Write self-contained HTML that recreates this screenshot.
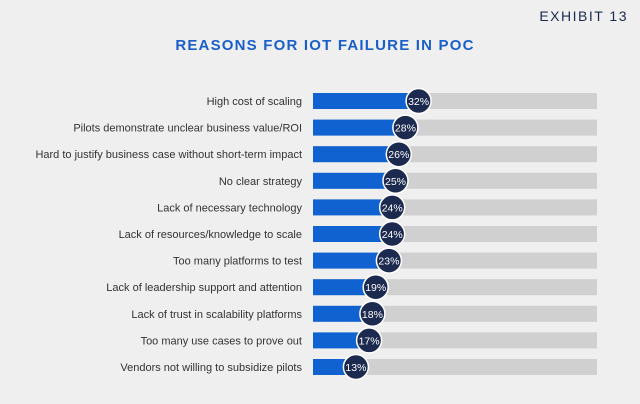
<!DOCTYPE html>
<html><head><meta charset="utf-8"><style>
body{margin:0;background:#efefef;font-family:"Liberation Sans",sans-serif}
#wrap{position:relative;width:640px;height:404px;overflow:hidden;background:#efefef}
</style></head><body>
<div id="wrap">
<div style="position:absolute;right:12px;top:8px;font-size:14px;letter-spacing:1.5px;color:#1b2a4e">EXHIBIT 13</div>
<div style="position:absolute;left:0;width:650px;top:37px;text-align:center;font-size:15px;font-weight:bold;letter-spacing:1.2px;color:#1a5fc8">REASONS FOR IOT FAILURE IN POC</div>
<svg id="chart" width="640" height="404" style="position:absolute;left:0;top:0"></svg>
</div>
<script>
const categories=["High cost of scaling","Pilots demonstrate unclear business value/ROI","Hard to justify business case without short-term impact","No clear strategy","Lack of necessary technology","Lack of resources/knowledge to scale","Too many platforms to test","Lack of leadership support and attention","Lack of trust in scalability platforms","Too many use cases to prove out","Vendors not willing to subsidize pilots"];
const values=[32,28,26,25,24,24,23,19,18,17,13];
const NS="http://www.w3.org/2000/svg";
const svg=document.getElementById('chart');
const x0=313,x1=597,pxPer=3.3;
const xs=v=>x0+v*pxPer;
const ys=i=>101+i*26.6;
function mk(t,a){const e=document.createElementNS(NS,t);for(const k in a)e.setAttribute(k,a[k]);svg.appendChild(e);return e;}
categories.forEach((c,i)=>{
 const y=ys(i);
 const bg=mk('rect',{x:x0,y:y-8,width:x1-x0,height:16,fill:'#d0d0d0'});
 
 
 const b=mk('rect',{x:x0,y:y-8,width:xs(values[i])-x0,height:16,fill:'#0f62d0'});
 
 
 const l=mk('text',{x:302,y:y+4,'text-anchor':'end','font-size':'11',fill:'#333'});
 l.textContent=c;
 
 
 const ci=mk('circle',{cx:xs(values[i]),cy:y,r:12.5,fill:'#1b2a4e',stroke:'#fff','stroke-width':1.5});
 
 
 const v=mk('text',{x:xs(values[i]),y:y+4,'text-anchor':'middle','font-size':'10.5',fill:'#fff'});
 v.textContent=values[i]+'%';
 
 
});
</script>
</body></html>
